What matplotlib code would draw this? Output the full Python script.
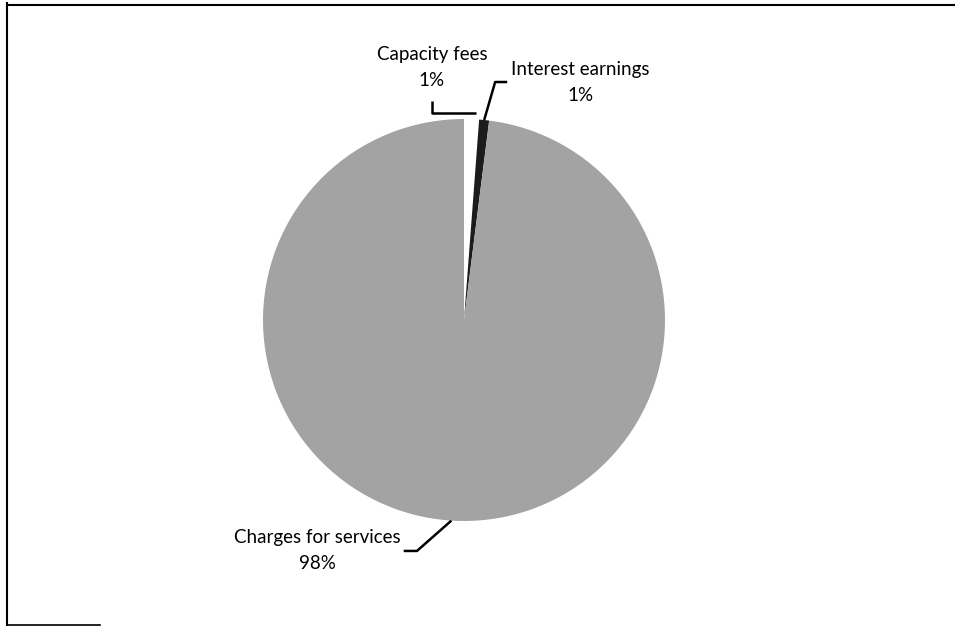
import numpy as np
import matplotlib
matplotlib.use("Agg")
import matplotlib.pyplot as plt
from matplotlib.lines import Line2D

# Revenue shares (clockwise from 12 o'clock)
categories = ["Capacity fees", "Interest earnings", "Charges for services"]
shares = [1.2, 0.8, 98.0]
colors = ["#ffffff", "#1c1c1c", "#a3a3a3"]

W, H = 955, 626
fig = plt.figure(figsize=(W / 100, H / 100), dpi=100)

# pie axes placed in pixels: centre (464, 320), radius 201
cx, cy, r = 464, 320, 201
ax = fig.add_axes([(cx - r) / W, (H - cy - r) / H, 2 * r / W, 2 * r / H])
wedges, _ = ax.pie(shares, colors=colors, startangle=90, counterclock=False,
                   radius=1, wedgeprops=dict(linewidth=0))
ax.set_xlim(-1, 1)
ax.set_ylim(-1, 1)
ax.set_aspect("equal")
ax.axis("off")

# wedge mid points on the rim
total = sum(shares)
starts = np.cumsum([0] + shares[:-1]) / total * 360
mids = starts + np.array(shares) / total * 180
rim = [(np.sin(np.radians(m)), np.cos(np.radians(m))) for m in mids]

font = ["Lato", "DejaVu Sans"]
fs = 13.5
labels = ["{}\n{:.0f}%".format(c, round(s)) for c, s in zip(categories, shares)]

# label positions and leader elbows (axes data units)
text_pos = [(-0.16, 1.255), (0.58, 1.18), (-0.73, -1.145)]
elbows = [
    [(-0.16, 1.09), (-0.16, 1.03)],
    [(0.215, 1.184), (0.155, 1.184)],
    [(-0.30, -1.149), (-0.234, -1.149)],
]

for i, (lab, (tx, ty), elb, (rx, ry)) in enumerate(zip(labels, text_pos, elbows, rim)):
    ax.text(tx, ty, lab, ha="center", va="center", fontsize=fs,
            family=font, linespacing=1.65, clip_on=False)
    if i == 0:
        pts = elb + [(rx + 0.02, elb[-1][1])]
    else:
        pts = elb + [(rx, ry)]
    xs, ys = zip(*pts)
    ax.plot(xs, ys, color="black", lw=1.8, clip_on=False, solid_capstyle="butt")

# scanned frame edges
fig.add_artist(Line2D([7 / W, 7 / W], [1 - 3 / H, 1 - 625 / H], color="black", lw=1.5))
fig.add_artist(Line2D([7 / W, 1], [1 - 5 / H, 1 - 5 / H], color="black", lw=1.5))
fig.add_artist(Line2D([7 / W, 100 / W], [1 - 625 / H, 1 - 625 / H], color="black", lw=1.2))

fig.savefig("out.png", dpi=100)
